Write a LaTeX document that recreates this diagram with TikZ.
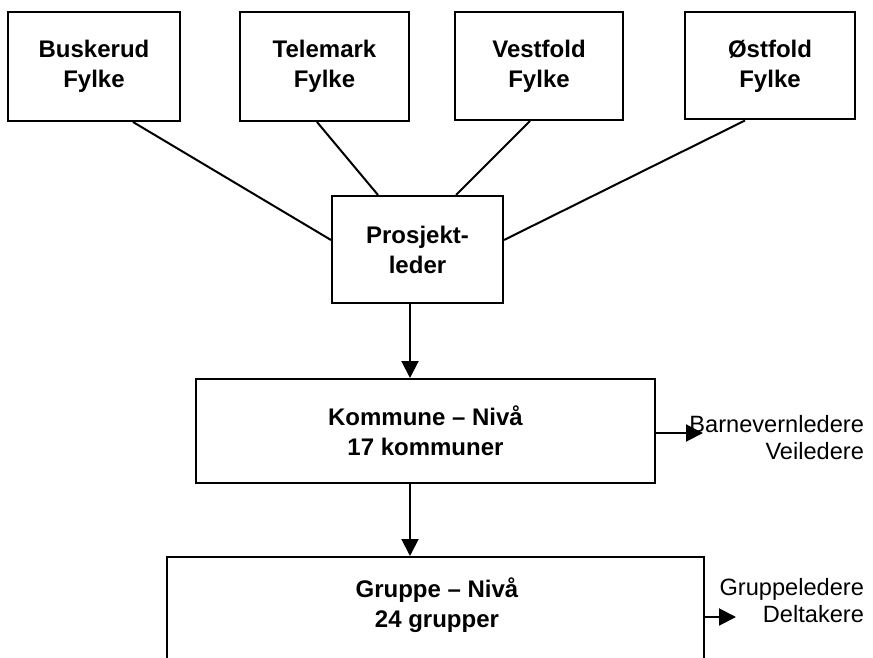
\documentclass[tikz,border=0pt]{standalone}
\usepackage{fontspec}
\setmainfont{Liberation Sans}
\usetikzlibrary{arrows.meta,positioning}
\tikzset{
	boks/.style={draw,line width=1pt,align=center,font=\bfseries\fontsize{12}{15}\selectfont},
	sidetekst/.style={align=right,font=\fontsize{11.8}{13.5}\selectfont},
	pil/.style={line width=1pt,-{Triangle[length=8.5pt,width=8.5pt]}},
	linje/.style={line width=1pt}
}
\begin{document}
\begin{tikzpicture}[x=0.5pt,y=-0.5pt]
	\useasboundingbox (0,0) rectangle (873,658);
	% fylkene
	\node[boks,minimum width=86pt,minimum height=54.5pt] (busk) at (94,66.5) {Buskerud\\Fylke};
	\node[boks,minimum width=84.5pt,minimum height=54.5pt] (tele) at (324.5,66.5) {Telemark\\Fylke};
	\node[boks,minimum width=84pt,minimum height=54pt] (vest) at (539,66) {Vestfold\\Fylke};
	\node[boks,minimum width=85pt,minimum height=53.5pt] (ost) at (770,66) {Østfold\\Fylke};
	\node[boks,minimum width=85.5pt,minimum height=53.5pt] (pl) at (417.5,249.5) {Prosjekt-\\leder};
	\draw[linje] ([xshift=19.5pt]busk.south) -- ([yshift=4.75pt]pl.west);
	\draw[linje] ([xshift=-3.75pt]tele.south) -- ([xshift=-19.75pt]pl.north);
	\draw[linje] ([xshift=-4.5pt]vest.south) -- ([xshift=19.25pt]pl.north);
	\draw[linje] ([xshift=-12.5pt]ost.south) -- ([yshift=4.75pt]pl.east);
	% kommune
	\node[boks,minimum width=229.5pt,minimum height=52pt] (komm) at (425.5,431) {Kommune – Nivå\\17 kommuner};
	\draw[pil] ([xshift=-3.75pt]pl.south) -- ([xshift=-3.75pt]pl.south |- komm.north);
	\coordinate (kpil) at (703,433);
	\draw[pil] (komm.east |- kpil) -- (kpil);
	\node[sidetekst,anchor=east] (barn) at (871,438) {Barnevernledere\\Veiledere};
	% gruppe
	\node[draw,line width=1pt,minimum width=268.5pt,minimum height=75pt,anchor=north] (grp) at (435.5,556) {};
	\node[boks,draw=none] (grptxt) at (437,605) {Gruppe – Nivå\\24 grupper};
	\draw[pil] (410,483) -- (410,556);
	\coordinate (gpil) at (736,617);
	\draw[pil] (grp.east |- gpil) -- (gpil);
	\node[sidetekst,anchor=east] (grpl) at (871,601) {Gruppeledere\\Deltakere};
\end{tikzpicture}
\end{document}
